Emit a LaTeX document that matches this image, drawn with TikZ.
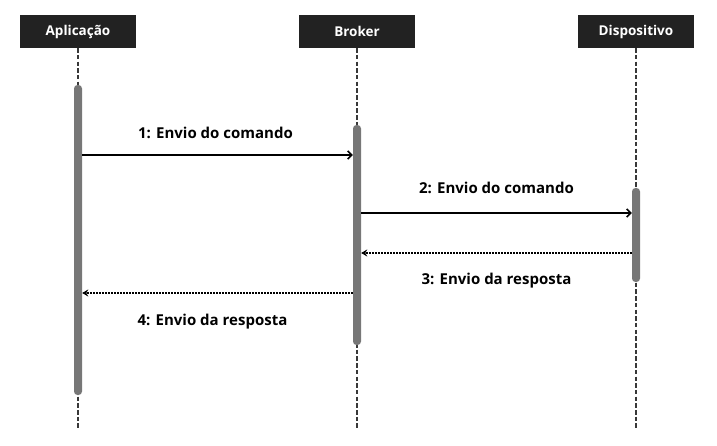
\documentclass[tikz,border=0pt]{standalone}
\usepackage{fontspec}
\setmainfont{Open Sans}
\usetikzlibrary{arrows.meta}
\usetikzlibrary{positioning}
\definecolor{headbg}{HTML}{222222}
\definecolor{bargray}{HTML}{777777}

\begin{document}
\begin{tikzpicture}[x=1pt,y=-1pt,
	head/.style={fill=headbg,text=white,font=\bfseries\fontsize{13.5}{15}\selectfont,
		minimum width=116pt,minimum height=33pt,inner sep=0pt},
	life/.style={draw=headbg!90,line width=2.8pt,dash pattern=on 4.5pt off 2.2pt},
	bar/.style={fill=bargray,rounded corners=3.5pt,minimum width=8pt,inner sep=0pt},
	msg/.style={-{Straight Barb[length=4pt,width=8pt]},line width=1.6pt},
	reply/.style={-{Stealth[length=6pt,width=7pt]},line width=1.8pt,
		dash pattern=on 1.6pt off 1.4pt},
	lbl/.style={font=\bfseries\fontsize{15}{17}\selectfont}]
	\useasboundingbox (0,0) rectangle (717,446);
	% participants
	\node[head] (app) at (78,31.5){Aplicação};
	\node[head] (broker) at (357,31.5){Broker};
	\node[head] (disp) at (636,31.5){Dispositivo};
	\coordinate (appEnd) at (78,428);
	\coordinate (brokerEnd) at (357,428);
	\coordinate (dispEnd) at (636,428);
	\draw[life] (app.south) -- (appEnd);
	\draw[life] (broker.south) -- (brokerEnd);
	\draw[life] (disp.south) -- (dispEnd);
	% activations
	\node[bar, minimum height=310pt] (appBar) at (78,240){};
	\node[bar, minimum height=220pt] (brokerBar) at (357,235){};
	\node[bar, minimum height=94pt] (dispBar) at (636,235){};
	% messages
	\draw[msg] (appBar.east |- 0,155) -- node[lbl, midway, xshift=-2pt, yshift=22pt]{1: Envio do comando} (brokerBar.west |- 0,155);
	\draw[msg] (brokerBar.east |- 0,213) -- node[lbl, midway, yshift=25pt]{2: Envio do comando} (dispBar.west |- 0,213);
	\draw[reply] (dispBar.west |- 0,253) -- node[lbl, midway, yshift=-28pt]{3: Envio da resposta} (brokerBar.east |- 0,253);
	\draw[reply] (brokerBar.west |- 0,293) -- node[lbl, midway, xshift=-5pt, yshift=-29pt]{4: Envio da resposta} (appBar.east |- 0,293);
\end{tikzpicture}
\end{document}
